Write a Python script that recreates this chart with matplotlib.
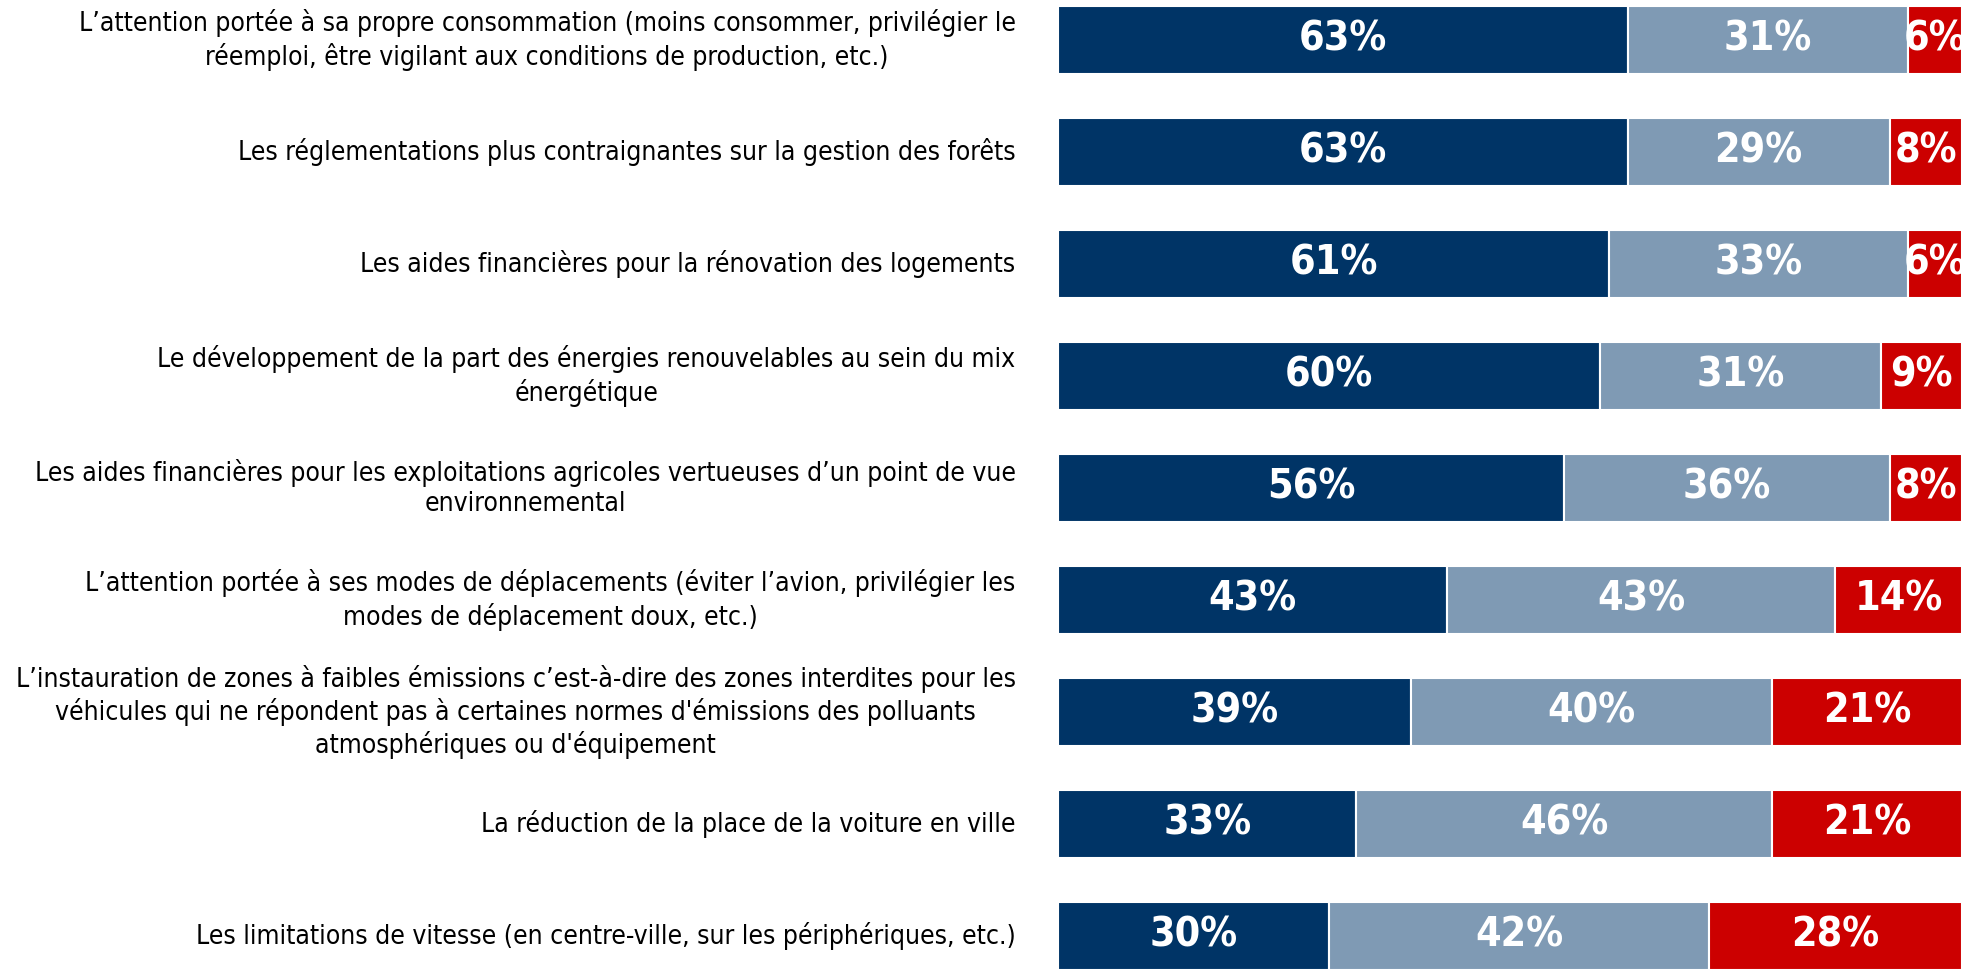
import numpy as np
import matplotlib.pyplot as plt

# survey items, top to bottom
items = [
    "L’attention portée à sa propre consommation (moins consommer, privilégier le\nréemploi, être vigilant aux conditions de production, etc.)",
    "Les réglementations plus contraignantes sur la gestion des forêts",
    "Les aides financières pour la rénovation des logements",
    "Le développement de la part des énergies renouvelables au sein du mix\nénergétique",
    "Les aides financières pour les exploitations agricoles vertueuses d’un point de vue\nenvironnemental",
    "L’attention portée à ses modes de déplacements (éviter l’avion, privilégier les\nmodes de déplacement doux, etc.)",
    "L’instauration de zones à faibles émissions c’est-à-dire des zones interdites pour les\nvéhicules qui ne répondent pas à certaines normes d'émissions des polluants\natmosphériques ou d'équipement",
    "La réduction de la place de la voiture en ville",
    "Les limitations de vitesse (en centre-ville, sur les périphériques, etc.)",
]
part1 = [63, 63, 61, 60, 56, 43, 39, 33, 30]
part2 = [31, 29, 33, 31, 36, 43, 40, 46, 42]
part3 = [6, 8, 6, 9, 8, 14, 21, 21, 28]

colors = ["#003466", "#7f9ab4", "#cc0000"]

fig = plt.figure(figsize=(19.72, 9.69), dpi=100)
ax = fig.add_axes([1058 / 1972, 0, 904 / 1972, 1])

y = np.arange(len(items))
left = np.zeros(len(items))
for vals, c in zip([part1, part2, part3], colors):
    vals = np.array(vals)
    ax.barh(y, vals, left=left, height=0.607, color=c,
            edgecolor="white", linewidth=1.5)
    for yi, l, v in zip(y, left, vals):
        ax.text(l + v / 2, yi, f"{v}%", ha="center", va="center",
                color="white", fontsize=29.5, fontweight="bold",
                fontstretch="condensed")
    left += vals

for yi, t in zip(y, items):
    ax.text(-0.047, yi, t, transform=ax.get_yaxis_transform(), ha="right",
            va="center", multialignment="center", fontsize=19,
            fontstretch="condensed", linespacing=1.24)

ax.set_xlim(0, 100)
ax.set_ylim(8.295, -0.357)
ax.axis("off")

fig.savefig("out.png", dpi=100)
